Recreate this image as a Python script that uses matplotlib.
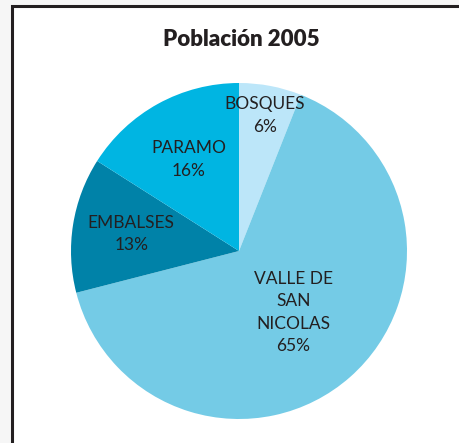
import matplotlib
matplotlib.use("Agg")
import matplotlib.pyplot as plt
from matplotlib.patches import Rectangle
import numpy as np

categories = ["BOSQUES", "VALLE DE\nSAN\nNICOLAS", "EMBALSES", "PARAMO"]
values = [6, 65, 13, 16]
colors = ["#bce6f9", "#74cbe6", "#0082a8", "#00b5e2"]
title = "Población 2005"

W, H = 460, 443
fig = plt.figure(figsize=(W / 100, H / 100), dpi=100)
fig.patch.set_facecolor("#f6f6f6")

# white framed panel (right and bottom edges run off the image)
panel = Rectangle((12 / W, -0.1), 1.2, 1.1 - 6 / H, transform=fig.transFigure,
                  facecolor="white", edgecolor="#231f20", linewidth=2.2,
                  clip_on=False, zorder=-5)
fig.patches.append(panel)

cx, cy, r = 239, 251, 168
ax = fig.add_axes([(cx - r) / W, (H - cy - r) / H, 2 * r / W, 2 * r / H])
ax.set_zorder(2)
wedges, _ = ax.pie(values, colors=colors, startangle=90, counterclock=False,
                   radius=1.0, wedgeprops=dict(linewidth=0))
ax.set_xlim(-1, 1)
ax.set_ylim(-1, 1)
ax.set_aspect("equal")
ax.axis("off")

label_radius = [0.82, 0.49, 0.65, 0.62]
font = ["Lato", "DejaVu Sans"]
for w, cat, val, lr in zip(wedges, categories, values, label_radius):
    ang = np.deg2rad((w.theta1 + w.theta2) / 2)
    ax.text(lr * np.cos(ang), lr * np.sin(ang), f"{cat}\n{val}%",
            ha="center", va="center", fontsize=12.5, color="#231f20",
            family=font, linespacing=1.5)

fig.text(241 / W, 1 - 40 / H, title, ha="center", va="center",
         fontsize=16, fontweight="heavy", color="#231f20", family=font)

fig.savefig("out.png", dpi=100, facecolor=fig.get_facecolor())
